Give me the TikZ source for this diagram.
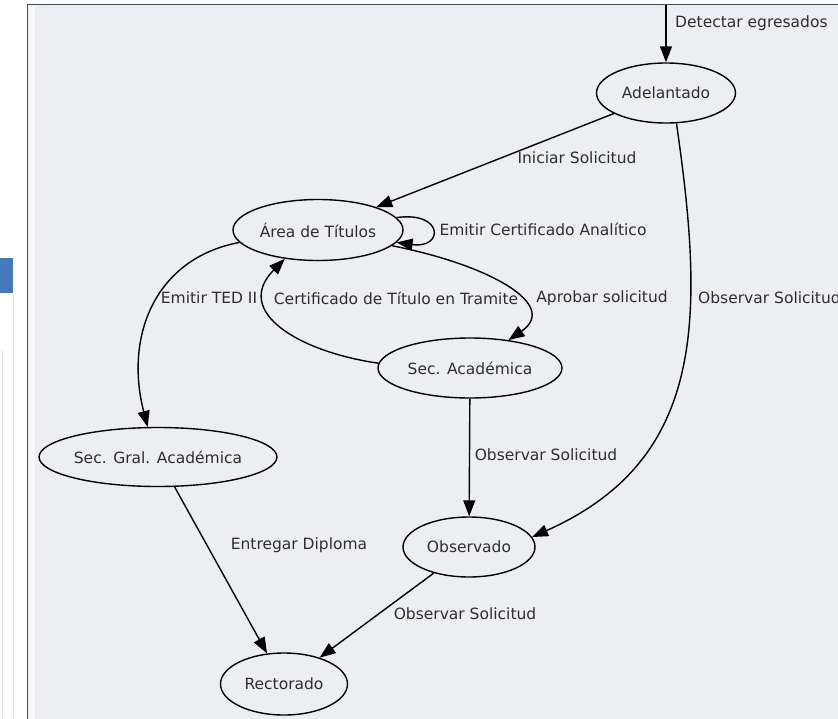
\documentclass[tikz,border=0pt]{standalone}
\usepackage{fontspec}
\setmainfont{DejaVu Sans}
\usetikzlibrary{shapes.geometric,arrows.meta}
\definecolor{panel}{HTML}{EDEEF2}
\definecolor{frame}{HTML}{3B5060}
\definecolor{txt}{HTML}{2E2E2E}
\definecolor{uiblue}{HTML}{4479BF}
\definecolor{uigray}{HTML}{E2E2E4}
\begin{document}
\begin{tikzpicture}[x=1pt,y=-1pt,
  gfont/.style={font=\fontsize{15.5}{18}\selectfont},
  state/.style={ellipse, draw=black, line width=1.4pt, inner sep=0pt, gfont, text=txt},
  lab/.style={gfont, text=txt, inner sep=0pt},
  edge/.style={draw=black, line width=1.4pt, -{Triangle[length=16pt,width=12pt]}}]
\useasboundingbox (0,0) rectangle (838,718);
% surrounding UI
\fill[white] (0,0) rectangle (838,718);
\fill[uiblue] (0,258) rectangle (13,293);
\draw[uigray, line width=1pt] (13,293) -- (13,718);
\draw[uigray, line width=1pt] (2,350) -- (2,718);
% panel
\fill[panel] (28,5) rectangle (840,720);
\fill[white!60!panel] (28.5,5.5) rectangle (35,720);
\draw[frame, line width=1.5pt] (27.5,720) -- (27.5,4.5) -- (840,4.5);
% nodes
\node[state, minimum width=139pt, minimum height=60pt] (ad) at (666,93) {Adelantado};
\node[state, minimum width=170pt, minimum height=61pt] (at) at (318,230) {Área de Títulos};
\node[state, minimum width=184pt, minimum height=60pt] (sa) at (470,368) {Sec. Académica};
\node[state, minimum width=234pt, minimum height=59pt] (sg) at (158,457) {Sec. Gral. Académica};
\node[state, minimum width=132pt, minimum height=60pt] (ob) at (469,547) {Observado};
\node[state, minimum width=127pt, minimum height=62pt] (re) at (284,684) {Rectorado};
\coordinate (top) at (666,4.5);
% edges
\draw[edge] (top) -- (ad.north);
\draw[edge] (ad) -- (at);
\draw[edge] (at.9) .. controls (444,211) and (444,249) .. (at.-9);
\draw[edge] (at.-12) .. controls (490,265) and (560,305) .. (sa.36);
\draw[edge] (sa.177) .. controls (300,352) and (232,312) .. (at.221);
\draw[edge] (at.189) .. controls (156,258) and (124,335) .. (sg.109);
\draw[edge] (ad.-71) .. controls (705,320) and (705,460) .. (ob.9);
\draw[edge] (sa) -- (ob);
\draw[edge] (sg) -- (re);
\draw[edge] (ob) -- (re);
% labels
\node[lab, anchor=west] (l1) at (675,23) {Detectar egresados};
\node[lab] (l2) at (577,158) {Iniciar Solicitud};
\node[lab] (l3) at (543,229) {Emitir Certificado Analítico};
\node[lab] (l4) at (602,298) {Aprobar solicitud};
\node[lab] (l5) at (396,298) {Certificado de Título en Tramite};
\node[lab] (l6) at (209,298) {Emitir TED II};
\node[lab, anchor=west] (l7) at (698,298) {Observar Solicitud};
\node[lab] (l8) at (546,455) {Observar Solicitud};
\node[lab] (l9) at (299,545) {Entregar Diploma};
\node[lab] (l10) at (465,614) {Observar Solicitud};
\end{tikzpicture}
\end{document}
